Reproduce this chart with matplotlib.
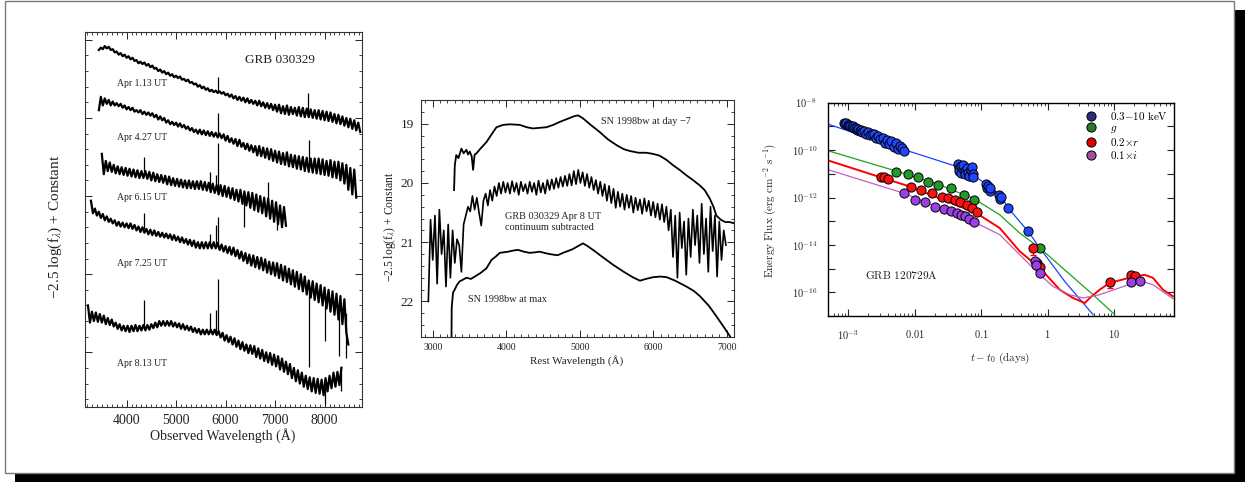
import matplotlib.pyplot as plt
import numpy as np
from matplotlib.patches import Rectangle
from matplotlib.lines import Line2D
from matplotlib.ticker import (MultipleLocator, FixedLocator, FixedFormatter,
                               NullFormatter, LogLocator, NullLocator)

plt.rcParams['mathtext.fontset'] = 'cm'
plt.rcParams['font.family'] = ['Liberation Serif', 'DejaVu Serif']

# ---------------- panel 1: GRB 030329 spectra (mag offsets, 40 A sampling) ----------------
STEP1 = 40
apr1_start = 3440
apr1 = [0.13, 0.10, 0.12, 0.08, 0.11, 0.09, 0.13, 0.12, 0.16, 0.15,
        0.19, 0.17, 0.21, 0.19, 0.23, 0.21, 0.25, 0.23, 0.27, 0.26,
        0.30, 0.28, 0.31, 0.29, 0.33, 0.31, 0.35, 0.33, 0.37, 0.36,
        0.40, 0.38, 0.42, 0.40, 0.44, 0.42, 0.46, 0.44, 0.48, 0.46,
        0.49, 0.47, 0.51, 0.50, 0.53, 0.51, 0.55, 0.54, 0.57, 0.56,
        0.60, 0.58, 0.62, 0.60, 0.64, 0.62, 0.66, 0.64, 0.67, 0.65,
        0.68, 0.66, 0.69, 0.67, 0.71, 0.69, 0.73, 0.70, 0.75, 0.72,
        0.77, 0.73, 0.78, 0.74, 0.80, 0.75, 0.81, 0.77, 0.82, 0.78,
        0.84, 0.78, 0.85, 0.80, 0.87, 0.81, 0.88, 0.82, 0.90, 0.83,
        0.92, 0.83, 0.94, 0.85, 0.95, 0.84, 0.96, 0.86, 0.95, 0.87,
        0.97, 0.86, 0.98, 0.87, 0.99, 0.88, 0.99, 0.89, 1.00, 0.90,
        1.01, 0.90, 1.02, 0.91, 1.03, 0.92, 1.04, 0.93, 1.05, 0.95,
        1.07, 0.96, 1.08, 0.98, 1.10, 1.00, 1.12, 1.01, 1.14, 1.03,
        1.16, 1.06, 1.18]
apr4_start = 3440
apr4 = [0.90, 0.73, 0.84, 0.75, 0.82, 0.77, 0.84, 0.79, 0.84, 0.81,
        0.85, 0.82, 0.87, 0.84, 0.89, 0.86, 0.90, 0.87, 0.92, 0.90,
        0.93, 0.90, 0.95, 0.92, 0.96, 0.93, 0.97, 0.94, 0.99, 0.96,
        1.02, 0.98, 1.03, 1.00, 1.06, 1.03, 1.08, 1.05, 1.09, 1.06,
        1.11, 1.07, 1.12, 1.09, 1.14, 1.11, 1.16, 1.13, 1.18, 1.15,
        1.20, 1.15, 1.21, 1.16, 1.22, 1.17, 1.23, 1.18, 1.24, 1.19,
        1.25, 1.20, 1.26, 1.21, 1.29, 1.23, 1.31, 1.26, 1.33, 1.27,
        1.36, 1.28, 1.37, 1.32, 1.40, 1.33, 1.42, 1.35, 1.44, 1.36,
        1.48, 1.36, 1.49, 1.38, 1.51, 1.39, 1.53, 1.40, 1.55, 1.42,
        1.57, 1.43, 1.59, 1.45, 1.60, 1.44, 1.62, 1.47, 1.63, 1.48,
        1.65, 1.49, 1.66, 1.50, 1.68, 1.51, 1.69, 1.52, 1.70, 1.52,
        1.71, 1.52, 1.72, 1.53, 1.73, 1.55, 1.74, 1.54, 1.76, 1.56,
        1.77, 1.56, 1.80, 1.58, 1.84, 1.60, 1.92, 1.64, 1.98, 1.66,
        2.02]
apr6_start = 3500
apr6 = [1.46, 1.72, 1.55, 1.68, 1.57, 1.69, 1.60, 1.71, 1.62, 1.72,
        1.63, 1.73, 1.64, 1.74, 1.65, 1.75, 1.66, 1.76, 1.67, 1.77,
        1.68, 1.77, 1.68, 1.78, 1.69, 1.80, 1.70, 1.81, 1.72, 1.82,
        1.73, 1.83, 1.74, 1.85, 1.75, 1.86, 1.77, 1.87, 1.78, 1.88,
        1.79, 1.89, 1.80, 1.90, 1.80, 1.90, 1.81, 1.91, 1.81, 1.91,
        1.81, 1.92, 1.82, 1.93, 1.83, 1.95, 1.84, 1.96, 1.86, 1.98,
        1.86, 2.00, 1.87, 2.01, 1.89, 2.03, 1.90, 2.05, 1.92, 2.07,
        1.92, 2.10, 1.94, 2.12, 1.95, 2.15, 1.96, 2.18, 1.98, 2.20,
        2.00, 2.22, 2.02, 2.26, 2.03, 2.29, 2.06, 2.33, 2.08, 2.36,
        2.12, 2.40, 2.14, 2.38]
apr7_start = 3280
apr7 = [2.06, 2.22, 2.16, 2.25, 2.20, 2.28, 2.23, 2.31, 2.26, 2.33,
        2.29, 2.35, 2.31, 2.38, 2.33, 2.39, 2.34, 2.40, 2.35, 2.41,
        2.35, 2.42, 2.37, 2.44, 2.39, 2.46, 2.40, 2.47, 2.42, 2.49,
        2.43, 2.50, 2.44, 2.51, 2.46, 2.52, 2.47, 2.53, 2.48, 2.54,
        2.49, 2.56, 2.50, 2.57, 2.52, 2.59, 2.53, 2.60, 2.55, 2.62,
        2.56, 2.64, 2.57, 2.66, 2.59, 2.67, 2.59, 2.67, 2.59, 2.67,
        2.59, 2.67, 2.59, 2.67, 2.60, 2.69, 2.62, 2.71, 2.64, 2.73,
        2.65, 2.75, 2.66, 2.77, 2.69, 2.80, 2.71, 2.83, 2.73, 2.86,
        2.75, 2.89, 2.76, 2.91, 2.78, 2.93, 2.79, 2.95, 2.81, 2.98,
        2.84, 3.00, 2.85, 3.02, 2.86, 3.05, 2.88, 3.08, 2.90, 3.10,
        2.93, 3.13, 2.95, 3.16, 2.97, 3.19, 3.00, 3.22, 3.03, 3.26,
        3.08, 3.30, 3.09, 3.33, 3.12, 3.36, 3.14, 3.40, 3.17, 3.44,
        3.20, 3.48, 3.22, 3.52, 3.25, 3.58, 3.28, 3.64, 3.32, 3.75,
        3.90]
apr8_start = 3220
apr8 = [3.40, 3.62, 3.48, 3.60, 3.49, 3.61, 3.51, 3.62, 3.53, 3.64,
        3.56, 3.65, 3.58, 3.67, 3.62, 3.70, 3.64, 3.72, 3.66, 3.73,
        3.66, 3.74, 3.66, 3.73, 3.65, 3.73, 3.66, 3.72, 3.65, 3.72,
        3.65, 3.71, 3.64, 3.69, 3.62, 3.68, 3.60, 3.66, 3.60, 3.66,
        3.60, 3.66, 3.60, 3.67, 3.62, 3.68, 3.63, 3.70, 3.64, 3.71,
        3.66, 3.72, 3.67, 3.74, 3.69, 3.75, 3.70, 3.77, 3.71, 3.77,
        3.71, 3.77, 3.71, 3.77, 3.71, 3.78, 3.73, 3.81, 3.75, 3.85,
        3.78, 3.87, 3.80, 3.90, 3.82, 3.93, 3.85, 3.96, 3.87, 3.98,
        3.90, 4.01, 3.91, 4.02, 3.92, 4.06, 3.95, 4.08, 3.97, 4.11,
        4.00, 4.13, 4.01, 4.16, 4.03, 4.18, 4.05, 4.22, 4.08, 4.25,
        4.12, 4.28, 4.15, 4.33, 4.20, 4.37, 4.23, 4.40, 4.26, 4.44,
        4.30, 4.47, 4.32, 4.50, 4.33, 4.52, 4.34, 4.53, 4.35, 4.55,
        4.33, 4.50, 4.30, 4.46, 4.26, 4.44, 4.25, 4.42, 4.20]
epoch_labels = ['Apr 1.13 UT', 'Apr 4.27 UT', 'Apr 6.15 UT', 'Apr 7.25 UT', 'Apr 8.13 UT']

# narrow emission lines / deep dips: wavelength, continuum, tip
spike_wl = [5851, 7669, 5851, 7689, 4349, 5683, 5798, 5851, 6370, 6860, 7040,
            4349, 5683, 5798, 5851, 7683, 8000, 8300, 8440,
            4349, 5683, 5798, 5851, 8000, 8330]
spike_base = [0.67, 0.92, 1.21, 1.60, 1.73, 1.88, 1.91, 1.92, 2.00, 2.10, 2.20,
              2.42, 2.63, 2.64, 2.63, 3.22, 3.40, 3.50, 3.50,
              3.68, 3.74, 3.74, 3.75, 4.44, 4.18]
spike_tip = [0.47, 0.68, 0.94, 1.28, 1.50, 1.69, 1.73, 1.32, 2.39, 1.82, 2.44,
             2.22, 2.49, 2.37, 2.27, 4.19, 3.85, 4.05, 4.07,
             3.33, 3.50, 3.46, 3.06, 4.66, 4.50]

# ---------------- panel 2: rest-frame comparison ----------------
day7_wl = [3290, 3300, 3320, 3350, 3390, 3420, 3458, 3480, 3503, 3530,
           3549, 3570, 3595, 3650, 3731, 3800, 3867, 3957, 4050, 4184,
           4280, 4365, 4450, 4547, 4640, 4728, 4830, 4932, 4980, 5045,
           5150, 5272, 5380, 5499, 5600, 5680, 5800, 5907, 6000, 6088,
           6180, 6270, 6360, 6451, 6540, 6633, 6700, 6769, 6820, 6860,
           6920, 6980, 7040, 7100]
day7_mag = [20.12, 19.70, 19.53, 19.58, 19.42, 19.50, 19.44, 19.52, 19.47, 19.55,
            19.78, 19.52, 19.50, 19.42, 19.31, 19.18, 19.06, 19.02, 19.01, 19.02,
            19.06, 19.08, 19.07, 19.06, 19.02, 18.97, 18.92, 18.87, 18.86, 18.91,
            19.02, 19.14, 19.26, 19.36, 19.43, 19.46, 19.49, 19.49, 19.51, 19.54,
            19.61, 19.70, 19.78, 19.87, 19.95, 20.04, 20.12, 20.26, 20.40, 20.55,
            20.62, 20.66, 20.66, 20.68]
max_wl = [3255, 3258, 3276, 3299, 3330, 3367, 3400, 3458, 3520, 3571,
          3650, 3731, 3799, 3860, 3912, 3970, 4025, 4100, 4161, 4240,
          4320, 4400, 4456, 4550, 4637, 4700, 4773, 4900, 5000, 5045,
          5100, 5181, 5300, 5453, 5600, 5720, 5820, 5900, 6001, 6100,
          6182, 6300, 6454, 6550, 6636, 6762, 6860, 6960, 7041, 7060]
max_mag = [22.62, 22.10, 21.85, 21.80, 21.72, 21.66, 21.64, 21.60, 21.62, 21.58,
           21.52, 21.44, 21.30, 21.24, 21.18, 21.17, 21.16, 21.14, 21.13, 21.16,
           21.18, 21.17, 21.16, 21.19, 21.21, 21.22, 21.18, 21.12, 21.05, 21.02,
           21.06, 21.13, 21.24, 21.38, 21.50, 21.59, 21.65, 21.62, 21.59, 21.58,
           21.59, 21.65, 21.75, 21.82, 21.91, 22.08, 22.25, 22.43, 22.58, 22.62]
STEP2 = 30
grb_start = 2940
grb_mag = [22.00, 20.62, 21.30, 20.55, 21.70, 20.45, 21.20, 20.80, 21.75, 20.70,
           21.60, 20.80, 21.35, 20.95, 21.05, 21.50, 20.70, 20.55, 20.40, 20.48,
           20.22, 20.45, 20.25, 20.50, 20.72, 20.30, 20.18, 20.38, 20.12, 20.30,
           20.06, 20.22, 20.00, 20.18, 19.98, 20.16, 20.00, 20.18, 19.97, 20.15,
           20.00, 20.20, 19.98, 20.14, 20.02, 20.18, 19.98, 20.15, 20.00, 20.20,
           19.96, 20.16, 20.00, 20.18, 19.95, 20.12, 19.94, 20.10, 19.92, 20.08,
           19.90, 20.06, 19.88, 20.05, 19.85, 20.04, 19.80, 20.02, 19.78, 20.00,
           19.82, 20.05, 19.85, 20.08, 19.90, 20.12, 19.95, 20.18, 19.98, 20.22,
           20.02, 20.30, 20.05, 20.34, 20.10, 20.42, 20.15, 20.40, 20.18, 20.45,
           20.20, 20.42, 20.22, 20.50, 20.25, 20.46, 20.28, 20.52, 20.26, 20.48,
           20.30, 20.55, 20.32, 20.58, 20.35, 20.62, 20.36, 20.66, 20.40, 20.80,
           20.45, 21.25, 20.55, 21.60, 20.50, 21.10, 20.65, 21.55, 20.60, 21.25,
           20.45, 21.05, 20.55, 21.35, 20.35, 21.20, 20.60, 21.50, 20.40, 21.15,
           20.55, 21.58, 20.65, 21.30, 20.80, 21.05]

# ---------------- panel 3: GRB 120729A light curves (log10 values) ----------------
xray_logt = [-3.07, -3.05, -3.03, -3.01, -2.99, -2.97, -2.95, -2.93, -2.91, -2.89,
             -2.87, -2.85, -2.83, -2.81, -2.79, -2.77, -2.74, -2.71, -2.68, -2.65,
             -2.62, -2.58, -2.55, -2.52, -2.48, -2.45, -2.42, -2.38, -2.35, -2.31,
             -2.28, -2.25, -2.22, -2.19, -2.16,
             -1.35, -1.34, -1.33, -1.31, -1.30, -1.28, -1.27, -1.25, -1.24, -1.22,
             -1.20, -1.18, -1.16, -1.14, -1.13, -1.12,
             -0.93, -0.91, -0.89, -0.87, -0.86, -0.735, -0.715, -0.695, -0.594, -0.293]
xray_logF = [-8.84, -8.90, -8.86, -8.95, -8.92, -8.98, -9.03, -8.97, -9.08, -9.05,
             -9.15, -9.10, -9.20, -9.14, -9.25, -9.19, -9.30, -9.24, -9.38, -9.33,
             -9.30, -9.47, -9.42, -9.55, -9.50, -9.70, -9.58, -9.75, -9.62, -9.85,
             -9.72, -9.95, -9.82, -9.93, -10.05,
             -10.60, -10.75, -10.88, -10.68, -10.95, -10.80, -10.62, -10.90, -11.02, -10.76,
             -10.95, -11.08, -10.85, -10.70, -11.00, -11.12,
             -11.45, -11.62, -11.52, -11.72, -11.60, -11.90, -12.08, -11.98, -12.45, -13.43]
g_logt = [-2.284, -2.098, -1.957, -1.806, -1.656, -1.456, -1.256, -1.110, -0.117]
g_logF = [-10.905, -11.016, -11.14, -11.33, -11.465, -11.60, -11.886, -12.097, -14.13]
r_logt = [-2.51, -2.46, -2.40, -2.057, -1.907, -1.746, -1.596, -1.496, -1.396, -1.32,
          -1.22, -1.145, -1.07, -0.218, -0.16, -0.117, 0.946, 1.26, 1.31]
r_logF = [-11.15, -11.13, -11.21, -11.54, -11.68, -11.83, -11.96, -12.03, -12.10, -12.17,
          -12.31, -12.45, -12.62, -14.13, -14.75, -14.95, -15.58, -15.25, -15.33]
r_err_logt = [-0.218, 0.946]
r_err_lo = [-14.41, -15.82]
r_err_hi = [-14.02, -15.45]
i_logt = [-2.163, -1.997, -1.847, -1.696, -1.561, -1.46, -1.37, -1.31, -1.245, -1.18,
          -1.11, -0.193, -0.168, -0.117, 1.262, 1.397]
i_logF = [-11.82, -12.10, -12.21, -12.38, -12.48, -12.56, -12.66, -12.73, -12.80, -12.90,
          -13.04, -14.69, -14.83, -15.18, -15.58, -15.51]

# model curves
xm_logt = [-3.30, -2.149, -1.37, -1.02, -0.72, -0.57, -0.293, -0.117, 0.258, 0.684]
xm_logF = [-8.91, -9.99, -10.69, -11.25, -11.88, -12.52, -13.43, -14.13, -15.54, -16.94]
gm_logt = [-3.30, -2.284, -1.66, -1.11, -0.72, -0.42, -0.117, 0.285, 0.684, 1.01]
gm_logF = [-10.03, -10.88, -11.43, -12.05, -12.73, -13.5, -14.13, -15.12, -16.1, -16.94]
rm_logt = [-3.30, -2.50, -2.07, -1.07, -0.72, -0.42, -0.117, 0.183, 0.383, 0.56,
           0.635, 0.785, 0.935, 1.26, 1.46, 1.586, 1.737, 1.887]
rm_logF = [-10.44, -11.16, -11.54, -12.66, -13.29, -14.27, -14.97, -15.89, -16.24, -16.45,
           -16.24, -15.89, -15.60, -15.37, -15.26, -15.39, -15.89, -16.17]
im_logt = [-3.30, -2.163, -1.12, -0.72, -0.42, -0.168, 0.08, 0.33, 0.534, 0.785,
           1.085, 1.386, 1.586, 1.887]
im_logF = [-10.83, -11.82, -13.01, -13.57, -14.41, -15.12, -15.75, -16.10, -16.24, -16.10,
           -15.81, -15.51, -15.68, -16.27]

band_labels = [r'$\mathrm{0.3{-}10\ keV}$', r'$g$', r'$0.2{\times}r$', r'$0.1{\times}i$']
band_legend_colors = ['#2b2b80', '#2a7a2a', '#e00000', '#a050a0']

# ---------------------------------------------------------------------------
W, H = 1248, 483
fig = plt.figure(figsize=(W / 100, H / 100), dpi=100)


def fx(px):
    return px / W


def fy(py):
    return 1 - py / H


fig.patches.append(Rectangle((fx(15), fy(482)), (1245 - 15) / W, (482 - 10) / H,
                             transform=fig.transFigure, facecolor='black',
                             edgecolor='none', zorder=-10))
fig.patches.append(Rectangle((fx(5), fy(473)), (1234 - 5) / W, (473 - 1) / H,
                             transform=fig.transFigure, facecolor='white',
                             edgecolor='#7a7a7a', lw=1.0, zorder=-9))

ink = '#222222'

# ----- panel 1
ax1 = fig.add_axes([fx(85), fy(407), (361.7 - 85) / W, (407 - 32) / H])
for start, vals in [(apr1_start, apr1), (apr4_start, apr4), (apr6_start, apr6),
                    (apr7_start, apr7), (apr8_start, apr8)]:
    wl = start + STEP1 * np.arange(len(vals))
    ax1.plot(wl, vals, color='k', lw=1.6)
ax1.vlines(spike_wl, spike_base, spike_tip, color='k', lw=0.9)
ax1.set_xlim(3160, 8750)
ax1.set_ylim(4.70, -0.10)
ax1.xaxis.set_major_locator(FixedLocator([4000, 5000, 6000, 7000, 8000]))
ax1.xaxis.set_minor_locator(MultipleLocator(100))
ax1.yaxis.set_major_locator(MultipleLocator(1))
ax1.yaxis.set_minor_locator(MultipleLocator(0.2))
ax1.tick_params(which='both', direction='in', top=True, right=True,
                labelleft=False, colors=ink, labelsize=10, pad=5)
ax1.tick_params(which='major', length=5, width=0.7)
ax1.tick_params(which='minor', length=2.5, width=0.6)
for s in ax1.spines.values():
    s.set_linewidth(0.8)
    s.set_color('#333333')

fig.text(fx(280), fy(60), 'GRB 030329', fontsize=9.5, ha='center', va='center', color=ink)
for lab, py in zip(epoch_labels, [83, 138, 197, 263, 364]):
    fig.text(fx(117), fy(py), lab, fontsize=7, ha='left', va='center', color=ink)
fig.text(fx(55), fy(227), '\u22122.5 log(f$_\\lambda$) + Constant', rotation=90,
         fontsize=11, ha='center', va='center', color=ink, math_fontfamily='stix')
fig.text(fx(223), fy(436), 'Observed Wavelength (\u00c5)', fontsize=10,
         ha='center', va='center', color=ink)

# ----- panel 2
ax2 = fig.add_axes([fx(421), fy(337), (734 - 421) / W, (337 - 100) / H])
ax2.plot(day7_wl, day7_mag, color='k', lw=1.3)
ax2.plot(max_wl, max_mag, color='k', lw=1.3)
ax2.plot(grb_start + STEP2 * np.arange(len(grb_mag)), grb_mag, color='k', lw=1.2)
ax2.set_xlim(2840, 7100)
ax2.set_ylim(22.6, 18.6)
ax2.xaxis.set_major_locator(MultipleLocator(1000))
ax2.xaxis.set_minor_locator(MultipleLocator(100))
ax2.yaxis.set_major_locator(MultipleLocator(1))
ax2.yaxis.set_minor_locator(MultipleLocator(0.2))
ax2.tick_params(which='both', direction='in', top=True, right=True, colors=ink)
ax2.tick_params(axis='x', labelsize=7, pad=4)
ax2.tick_params(axis='y', labelsize=9.5, pad=5)
ax2.tick_params(which='major', length=5, width=0.7)
ax2.tick_params(which='minor', length=2.5, width=0.6)
for s in ax2.spines.values():
    s.set_linewidth(0.8)
    s.set_color('#333333')

fig.text(fx(600.7), fy(121), 'SN 1998bw at day \u22127', fontsize=7.4, ha='left',
         va='center', color=ink)
fig.text(fx(505), fy(216.7), 'GRB 030329 Apr 8 UT', fontsize=7.4, ha='left',
         va='center', color=ink)
fig.text(fx(505), fy(227.5), 'continuum subtracted', fontsize=7.4, ha='left',
         va='center', color=ink)
fig.text(fx(468), fy(300), 'SN 1998bw at max', fontsize=7.4, ha='left',
         va='center', color=ink)
fig.text(fx(390), fy(227), '\u22122.5 log(f$_\\lambda$) + Constant', rotation=90,
         fontsize=8.4, ha='center', va='center', color=ink, math_fontfamily='stix')
fig.text(fx(577), fy(361), 'Rest Wavelength (\u00c5)', fontsize=8,
         ha='center', va='center', color=ink)

# ----- panel 3
ax3 = fig.add_axes([fx(828.3), fy(316), (1174 - 828.3) / W, (316 - 102.7) / H])
p10 = lambda v: 10.0 ** np.asarray(v)
ax3.plot(p10(xm_logt), p10(xm_logF), color='#2040ff', lw=0.9, zorder=2)
ax3.plot(p10(gm_logt), p10(gm_logF), color='#20a020', lw=0.9, zorder=2)
ax3.plot(p10(rm_logt), p10(rm_logF), color='#ff0000', lw=1.4, zorder=2)
ax3.plot(p10(im_logt), p10(im_logF), color='#c060c0', lw=0.9, zorder=2)
t_err = p10(r_err_logt)
f_err = p10([r_logF[13], r_logF[16]])
ax3.errorbar(t_err, f_err, yerr=[f_err - p10(r_err_lo), p10(r_err_hi) - f_err],
             fmt='none', ecolor='#ff0000', elinewidth=0.9, capsize=2, zorder=3)
mk = dict(ls='none', marker='o', ms=6.6, mec='k', mew=0.7, zorder=4)
ax3.plot(p10(xray_logt), p10(xray_logF), mfc='#1f45ff', **mk)
ax3.plot(p10(g_logt), p10(g_logF), mfc='#22992a', **mk)
ax3.plot(p10(r_logt), p10(r_logF), mfc='#ff1010', **mk)
ax3.plot(p10(i_logt), p10(i_logF), mfc='#9a40e6', **mk)
ax3.set_xscale('log')
ax3.set_yscale('log')
ax3.set_xlim(5e-4, 80)
ax3.set_ylim(1e-17, 1e-8)
ax3.xaxis.set_major_locator(FixedLocator([1e-3, 1e-2, 1e-1, 1, 10]))
ax3.xaxis.set_major_formatter(FixedFormatter([r'$10^{-3}$', r'$0.01$', r'$0.1$', r'$1$', r'$10$']))
ax3.xaxis.set_minor_locator(LogLocator(base=10, subs=np.arange(2, 10)))
ax3.xaxis.set_minor_formatter(NullFormatter())
ydec = [10.0 ** k for k in range(-17, -7)]
ax3.yaxis.set_major_locator(FixedLocator(ydec))
ax3.yaxis.set_major_formatter(FixedFormatter(
    ['' if k % 2 else r'$10^{%d}$' % k for k in range(-17, -7)]))
ax3.yaxis.set_minor_locator(NullLocator())
ax3.tick_params(which='both', direction='in', top=True, right=True, colors='#222222',
                labelsize=7.5)
ax3.tick_params(axis='x', pad=9)
ax3.tick_params(axis='y', pad=8)
ax3.tick_params(which='major', length=5, width=0.8)
ax3.tick_params(which='minor', length=2.5, width=0.6)
for s in ax3.spines.values():
    s.set_linewidth(1.0)

handles = [Line2D([], [], ls='none', marker='o', ms=6.6, mfc=c, mec='k', mew=0.7)
           for c in band_legend_colors]
ax3.legend(handles, band_labels, loc='upper left', bbox_to_anchor=(0.745, 0.965),
           frameon=False, fontsize=8, handlelength=1.0, handletextpad=1.2,
           labelspacing=0.08, borderaxespad=0, borderpad=0)

fig.text(fx(865), fy(275), r'$\mathrm{GRB\ 120729A}$', fontsize=8.2, ha='left',
         va='center', color=ink)
fig.text(fx(770), fy(210), r'$\mathrm{Energy\ Flux\ (erg\ cm^{-2}\ s^{-1})}$',
         rotation=90, fontsize=8, ha='center', va='center', color=ink)
fig.text(fx(1000), fy(358), r'$t - t_0\ \mathrm{(days)}$', fontsize=8,
         ha='center', va='center', color=ink)

fig.savefig('out.png', dpi=100)
